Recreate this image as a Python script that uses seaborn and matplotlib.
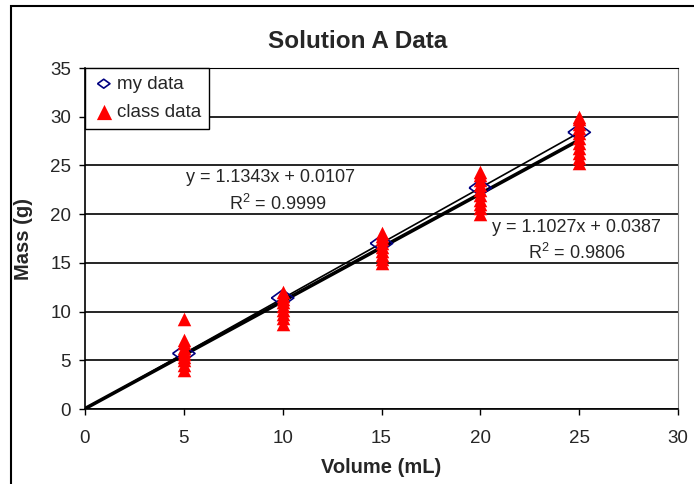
import numpy as np
import pandas as pd
import seaborn as sns
from matplotlib import pyplot as plt
from matplotlib.patches import Rectangle

# my data (one reading per volume)
my_volume = [5, 10, 15, 20, 25]
my_mass = [5.7, 11.4, 17.0, 22.7, 28.4]

# class data (many readings per volume)
class_mass = {
    5: [4.0, 4.5, 5.0, 5.3, 5.6, 6.0, 6.3, 6.8, 7.1, 9.2],
    10: [8.7, 9.3, 9.8, 10.2, 10.6, 11.0, 11.3, 11.6, 12.0],
    15: [15.0, 15.4, 15.8, 16.2, 16.6, 17.0, 17.4, 17.8, 18.1],
    20: [20.0, 20.6, 21.0, 21.5, 22.0, 22.5, 23.0, 23.5, 24.0, 24.3],
    25: [25.3, 25.8, 26.3, 26.8, 27.3, 27.8, 28.3, 28.8, 29.3, 29.8, 30.0],
}

# trendline coefficients as shown on the chart
my_fit = (1.1343, 0.0107, 0.9999)
class_fit = (1.1027, 0.0387, 0.9806)
fit_range = [0, 25]

sns.set_style("white")
plt.rcParams["font.family"] = ["Liberation Sans", "DejaVu Sans"]
plt.rcParams["mathtext.fontset"] = "custom"
plt.rcParams["mathtext.rm"] = "Liberation Sans"
plt.rcParams["mathtext.default"] = "rm"

df_my = pd.DataFrame({"Volume": my_volume, "Mass": my_mass})
df_class = pd.DataFrame(
    [(v, m) for v, ms in class_mass.items() for m in ms], columns=["Volume", "Mass"]
)

fig = plt.figure(figsize=(6.94, 4.84), dpi=100)
ax = fig.add_axes([85 / 694, 1 - 409 / 484, (678 - 85) / 694, (409 - 68) / 484])

# trendlines
fx = np.array(fit_range, dtype=float)
sns.lineplot(x=fx, y=my_fit[0] * fx + my_fit[1], ax=ax, color="black", lw=1.2, zorder=2)
sns.lineplot(x=fx, y=class_fit[0] * fx + class_fit[1], ax=ax, color="black", lw=2.6, zorder=2)

diamond = [(-1, 0), (0, 0.72), (1, 0), (0, -0.72), (-1, 0)]
sns.scatterplot(data=df_my, x="Volume", y="Mass", ax=ax, marker=diamond, s=260,
                facecolor="none", edgecolor="#000080", linewidth=1.2, zorder=3,
                label="my data")
sns.scatterplot(data=df_class, x="Volume", y="Mass", ax=ax, marker="^", s=95,
                color="red", edgecolor="red", linewidth=0, zorder=4,
                label="class data")

ax.set_xlim(0, 30)
ax.set_ylim(0, 35)
ax.set_xticks(range(0, 31, 5))
ax.set_yticks(range(0, 36, 5))
ax.yaxis.grid(True, color="black", lw=1.2)
ax.set_axisbelow(True)
ax.tick_params(axis="both", direction="out", length=4, width=1, color="black",
               labelsize=13.5, left=True, bottom=True)
ax.tick_params(axis="y", pad=6)
ax.tick_params(axis="x", pad=11)
for side in ["left", "bottom"]:
    ax.spines[side].set_color("black")
    ax.spines[side].set_linewidth(1.2)
ax.spines["right"].set_color("#808080")
ax.spines["top"].set_color("black")

ax.set_xlabel("Volume (mL)", fontsize=14.5, fontweight="bold", labelpad=8)
ax.set_ylabel("Mass (g)", fontsize=14.5, fontweight="bold", labelpad=12)
fig.text(358 / 694, 1 - 42 / 484, "Solution A Data", fontsize=17.5,
         fontweight="bold", ha="center", va="center")

ax.text(270 / 694, 1 - 178 / 484, f"y = {my_fit[0]:.4f}x + {my_fit[1]:.4f}",
        transform=fig.transFigure, ha="center", va="center", fontsize=13)
ax.text(278 / 694, 1 - 204 / 484, f"R$^2$ = {my_fit[2]:.4f}",
        transform=fig.transFigure, ha="center", va="center", fontsize=13)
ax.text(576 / 694, 1 - 228 / 484, f"y = {class_fit[0]:.4f}x + {class_fit[1]:.4f}",
        transform=fig.transFigure, ha="center", va="center", fontsize=13)
ax.text(577 / 694, 1 - 253 / 484, f"R$^2$ = {class_fit[2]:.4f}",
        transform=fig.transFigure, ha="center", va="center", fontsize=13)

leg = ax.legend(loc="upper left", bbox_to_anchor=(0, 1), borderaxespad=0,
                fontsize=13.5, frameon=True, fancybox=False, edgecolor="black",
                handletextpad=0.1, borderpad=0.4, labelspacing=0.6,
                handlelength=1.2)
leg.legend_handles[0].set_sizes([80])
leg.legend_handles[1].set_sizes([120])
leg.get_frame().set_linewidth(1.0)
leg.get_frame().set_alpha(1)

# outer chart frame
fig.patches.append(Rectangle((11 / 694, -0.05), 1.1, 1.05 - 6 / 484,
                             transform=fig.transFigure, fill=False,
                             edgecolor="black", lw=1.5, clip_on=False))

fig.savefig("out.png", dpi=100)
